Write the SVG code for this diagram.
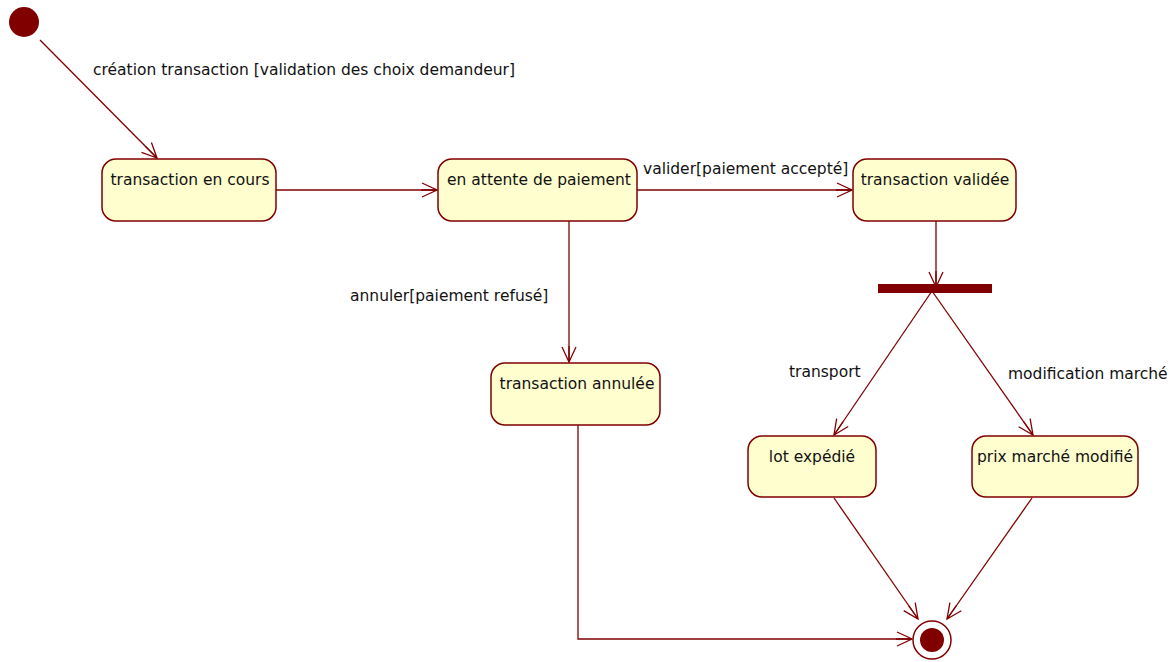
<svg xmlns="http://www.w3.org/2000/svg" width="1176" height="662" viewBox="0 0 1176 662">
<style>
.st{fill:#FEFECE;stroke:#800000;stroke-width:1.5}
.ln{fill:none;stroke:#800000;stroke-width:1.3;marker-end:url(#ah)}
text{font-family:"DejaVu Sans","Liberation Sans",sans-serif;font-size:15.5px;fill:#111}
.nt{text-anchor:middle}
</style>
<defs>
<marker id="ah" viewBox="0 0 20 20" refX="16" refY="10" markerWidth="20" markerHeight="20" markerUnits="userSpaceOnUse" orient="auto">
<path d="M1,3 L16,10 L1,17 M16,10 L0,10" fill="none" stroke="#800000" stroke-width="1.3"/>
</marker>
</defs>
<rect width="1176" height="662" fill="#fff"/>
<g id="connectors">
<path class="ln" d="M40,40 L157,158"/>
<path class="ln" d="M276,190 L437,190"/>
<path class="ln" d="M637,190 L852,190"/>
<path class="ln" d="M569,221 L569,362"/>
<path class="ln" d="M936,221 L936,287"/>
<path class="ln" d="M932,291 L834,435"/>
<path class="ln" d="M932,291 L1033,435"/>
<path class="ln" d="M834,498 L918,619"/>
<path class="ln" d="M1032,498 L947,619"/>
<path class="ln" d="M578,425 L578,639 L912,639"/>
<text x="93" y="75">création transaction [validation des choix demandeur]</text>
<text x="643" y="174">valider[paiement accepté]</text>
<text x="350" y="301">annuler[paiement refusé]</text>
<text x="789" y="377">transport</text>
<text x="1008" y="379">modification marché</text>
</g>
<g id="start"><circle cx="24" cy="22" r="15" fill="#800000"/></g>
<g id="n1"><rect class="st" x="102" y="159" width="174" height="62" rx="14"/><text class="nt" x="190" y="185">transaction en cours</text></g>
<g id="n2"><rect class="st" x="438" y="159" width="199" height="62" rx="14"/><text class="nt" x="539" y="185">en attente de paiement</text></g>
<g id="n3"><rect class="st" x="853" y="159" width="163" height="62" rx="14"/><text class="nt" x="935" y="185">transaction validée</text></g>
<g id="n4"><rect class="st" x="491" y="363" width="169" height="62" rx="14"/><text class="nt" x="577" y="389">transaction annulée</text></g>
<g id="fork"><rect x="878" y="284" width="114" height="9" fill="#800000"/></g>
<g id="n5"><rect class="st" x="748" y="436" width="128" height="61" rx="14"/><text class="nt" x="812" y="462">lot expédié</text></g>
<g id="n6"><rect class="st" x="972" y="436" width="166" height="61" rx="14"/><text class="nt" x="1055" y="462">prix marché modifié</text></g>
<g id="end"><circle cx="932" cy="640" r="19" fill="#fff" stroke="#800000" stroke-width="1.5"/><circle cx="932" cy="640" r="12" fill="#800000"/></g>
</svg>
